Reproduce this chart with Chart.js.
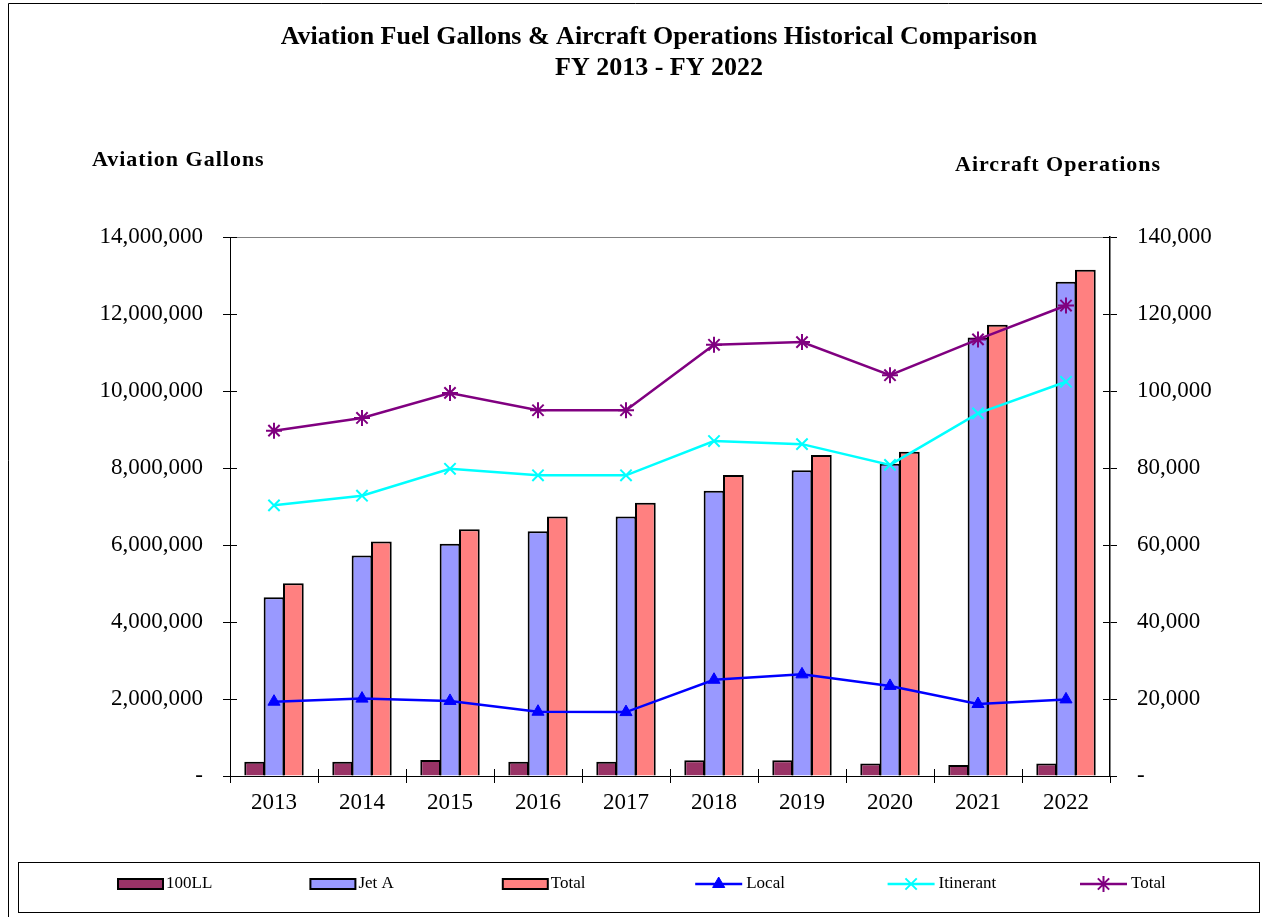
<!DOCTYPE html>
<html><head><meta charset="utf-8">
<script src="https://cdn.jsdelivr.net/npm/chart.js@4"></script>
<style>html,body{margin:0;padding:0;background:#fff;}#wrap{position:relative;width:1262px;height:917px;}</style>
</head><body><div id="wrap"><canvas id="c" width="1262" height="917"></canvas></div>
<script>
const categories = ['2013','2014','2015','2016','2017','2018','2019','2020','2021','2022'];
const gallons100LL = [371000, 371000, 417000, 371000, 371000, 408000, 408000, 325000, 287000, 325000];
const gallonsJetA  = [4645000, 5730000, 6030000, 6360000, 6740000, 7410000, 7940000, 8110000, 11390000, 12840000];
const gallonsTotal = [5007000, 6090000, 6410000, 6740000, 7100000, 7820000, 8340000, 8420000, 11720000, 13150000];
const opsLocal     = [19300, 20100, 19500, 16700, 16600, 25000, 26400, 23400, 18700, 19900];
const opsItinerant = [70300, 72800, 79800, 78100, 78100, 87000, 86200, 80800, 94200, 102400];
const opsTotal     = [89700, 93000, 99500, 95000, 95000, 112000, 112700, 104100, 113400, 122200];
const gallonAxis = {min: 0, max: 14000000, step: 2000000};
const opsAxis = {min: 0, max: 140000, step: 20000};
const titleLines = ['Aviation Fuel Gallons & Aircraft Operations Historical Comparison', 'FY 2013 - FY 2022'];
const leftAxisTitle = 'Aviation Gallons';
const rightAxisTitle = 'Aircraft Operations';

const SERIF = '"Liberation Serif", "Times New Roman", serif';
const fmt = v => v === 0 ? '-' : v.toLocaleString('en-US');

const decor = {
  id: 'decor',
  beforeDraw(chart) {
    const ctx = chart.ctx;
    ctx.save();
    ctx.fillStyle = '#fff';
    ctx.fillRect(0, 0, chart.width, chart.height);
    ctx.strokeStyle = '#000';
    ctx.lineWidth = 1;
    ctx.beginPath();
    ctx.moveTo(8.5, chart.height);
    ctx.lineTo(8.5, 3.5);
    ctx.lineTo(chart.width, 3.5);
    ctx.stroke();
    ctx.restore();
  },
  afterDraw(chart) {
    const ctx = chart.ctx;
    const a = chart.chartArea;
    ctx.save();
    ctx.strokeStyle = '#808080';
    ctx.lineWidth = 1;
    ctx.beginPath();
    ctx.moveTo(a.left, a.top + 0.5);
    ctx.lineTo(a.right, a.top + 0.5);
    ctx.stroke();
    ctx.strokeStyle = '#000';
    ctx.lineWidth = 1;
    const y = chart.scales.y, y1 = chart.scales.y1, x = chart.scales.x;
    ctx.beginPath();
    y.ticks.forEach(t => { const p = Math.round(y.getPixelForValue(t.value)) + 0.5; ctx.moveTo(a.left, p); ctx.lineTo(a.left + 7, p); });
    y1.ticks.forEach(t => { const p = Math.round(y1.getPixelForValue(t.value)) + 0.5; ctx.moveTo(a.right, p); ctx.lineTo(a.right - 7, p); });
    for (let i = 1; i < categories.length; i++) {
      const p = Math.round((x.getPixelForValue(i - 1) + x.getPixelForValue(i)) / 2) + 0.5;
      ctx.moveTo(p, a.bottom); ctx.lineTo(p, a.bottom - 7);
    }
    ctx.stroke();
    ctx.fillStyle = '#000';
    ctx.textBaseline = 'middle';
    ctx.textAlign = 'center';
    ctx.font = 'bold 26px ' + SERIF;
    ctx.fillText(titleLines[0], 659, 37);
    ctx.fillText(titleLines[1], 659, 68);
    ctx.textAlign = 'left';
    ctx.font = 'bold 22px ' + SERIF;
    ctx.letterSpacing = '1px';
    ctx.fillText(leftAxisTitle, 92, 160);
    ctx.fillText(rightAxisTitle, 955, 165);
    ctx.letterSpacing = '0px';
    ctx.strokeStyle = '#000';
    ctx.lineWidth = 1;
    ctx.strokeRect(18.5, 862.5, 1241, 50);
    ctx.font = '17px ' + SERIF;
    const ly = 884;
    chart.data.datasets.forEach((ds, i) => {
      const x0 = 118 + i * 192.4;
      if (ds.type === 'bar') {
        ctx.fillStyle = ds.backgroundColor;
        ctx.fillRect(x0, ly - 5, 45, 10);
        ctx.strokeStyle = '#000'; ctx.lineWidth = 2;
        ctx.strokeRect(x0, ly - 5, 45, 10);
        ctx.fillStyle = '#000';
        ctx.fillText(ds.label, x0 + 48, ly);
      } else {
        ctx.strokeStyle = ds.borderColor; ctx.lineWidth = 2.5;
        ctx.beginPath(); ctx.moveTo(x0, ly); ctx.lineTo(x0 + 47, ly); ctx.stroke();
        ctx.fillStyle = ds.pointBackgroundColor;
        ctx.strokeStyle = ds.pointBorderColor;
        ctx.lineWidth = ds.pointBorderWidth;
        Chart.helpers.drawPoint(ctx, {pointStyle: ds.pointStyle, radius: ds.pointRadius, rotation: 0, borderWidth: ds.pointBorderWidth}, x0 + 23.5, ly);
        ctx.fillStyle = '#000';
        ctx.fillText(ds.label, x0 + 51, ly);
      }
    });
    ctx.restore();
  }
};

const barDs = (label, data, color) => ({
  type: 'bar', label, data, yAxisID: 'y', backgroundColor: color,
  borderColor: '#000', borderWidth: 2, borderSkipped: 'bottom', order: 2,
  categoryPercentage: 0.66, barPercentage: 1.07
});
const lineDs = (label, data, color, style, radius, bw) => ({
  type: 'line', label, data, yAxisID: 'y1', borderColor: color, borderWidth: 2.5,
  backgroundColor: color, pointStyle: style, pointRadius: radius, pointBorderWidth: bw,
  pointBackgroundColor: color, pointBorderColor: color, fill: false, tension: 0, order: 1
});

new Chart(document.getElementById('c'), {
  data: {
    labels: categories,
    datasets: [
      barDs('100LL', gallons100LL, '#993366'),
      barDs('Jet A', gallonsJetA, '#9999FF'),
      barDs('Total', gallonsTotal, '#FF8080'),
      lineDs('Local', opsLocal, '#0000FF', 'triangle', 7, 1),
      lineDs('Itinerant', opsItinerant, '#00FFFF', 'crossRot', 8, 2),
      lineDs('Total', opsTotal, '#800080', 'star', 8, 2)
    ]
  },
  options: {
    responsive: false, animation: false, devicePixelRatio: 1,
    layout: {padding: {left: 0, right: 0, top: 237, bottom: 0}},
    plugins: {legend: {display: false}, title: {display: false}, tooltip: {enabled: false}},
    scales: {
      x: {
        offset: true,
        grid: {offset: true, drawOnChartArea: false, drawTicks: true, tickLength: 7, color: '#000'},
        border: {display: true, color: '#000', width: 1},
        ticks: {color: '#000', font: {family: SERIF, size: 23}, padding: 6, maxRotation: 0},
        afterFit: s => { s.height = 141; }
      },
      y: {
        position: 'left', min: gallonAxis.min, max: gallonAxis.max,
        grid: {drawOnChartArea: false, drawTicks: true, tickLength: 7, color: '#000'},
        border: {display: true, color: '#000', width: 1},
        ticks: {stepSize: gallonAxis.step, color: '#000', font: {family: SERIF, size: 23}, padding: 20, callback: fmt},
        afterFit: s => { s.width = 230; }
      },
      y1: {
        position: 'right', min: opsAxis.min, max: opsAxis.max,
        grid: {drawOnChartArea: false, drawTicks: true, tickLength: 7, color: '#000'},
        border: {display: true, color: '#000', width: 1.5},
        ticks: {stepSize: opsAxis.step, color: '#000', font: {family: SERIF, size: 23}, padding: 20, callback: fmt},
        afterFit: s => { s.width = 152; }
      }
    }
  },
  plugins: [decor]
});
</script></body></html>
